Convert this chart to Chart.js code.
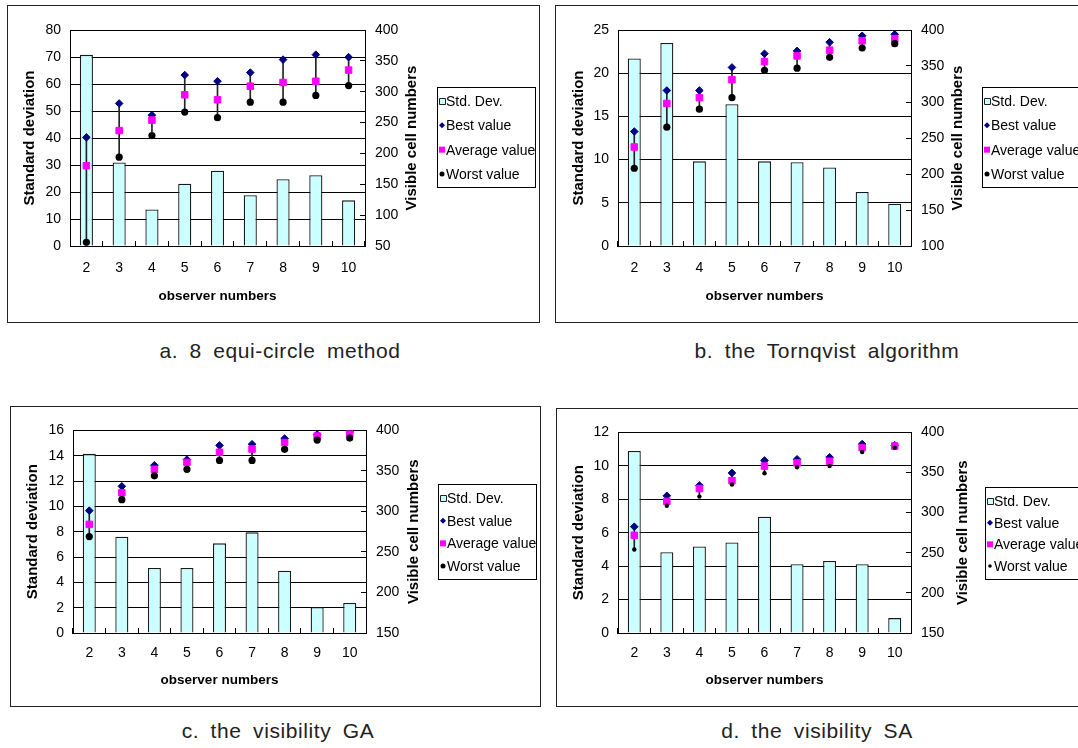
<!DOCTYPE html>
<html>
<head>
<meta charset="utf-8">
<script src="https://cdn.jsdelivr.net/npm/chart.js@4.4.0/dist/chart.umd.min.js"></script>
<style>
  body { margin: 0; width: 1078px; height: 748px; overflow: hidden; background: #fff; position: relative; font-family: 'Liberation Sans', Arial, sans-serif; }
  .panel { position: absolute; border: 1px solid #222; box-sizing: border-box; overflow: hidden; }
  .panel canvas { position: absolute; left: 0; top: 0; }
  .caption { position: absolute; font-size: 21px; letter-spacing: 0.6px; word-spacing: 5px; color: #222; white-space: nowrap; transform: translateX(-50%); }
</style>
</head>
<body>
<div class="panel" style="left:7px;top:5px;width:533px;height:318px"><canvas id="chartA"></canvas></div>
<div class="panel" style="left:555px;top:5px;width:540px;height:318px"><canvas id="chartB"></canvas></div>
<div class="panel" style="left:10px;top:406px;width:531px;height:301px"><canvas id="chartC"></canvas></div>
<div class="panel" style="left:556px;top:408px;width:540px;height:299px"><canvas id="chartD"></canvas></div>

<div class="caption" style="left:280px;top:339px">a. 8 equi-circle method</div>
<div class="caption" style="left:827px;top:339px">b. the Tornqvist algorithm</div>
<div class="caption" style="left:278px;top:719px">c. the visibility GA</div>
<div class="caption" style="left:817px;top:719px">d. the visibility SA</div>

<script>
const observers = ['2', '3', '4', '5', '6', '7', '8', '9', '10'];

// a. 8 equi-circle method
const stdA = [70.8, 30.9, 13.5, 23.1, 27.9, 18.8, 24.7, 26.2, 16.9];
const bestA = [226, 281, 262, 327, 317, 331, 352, 360, 356];
const avgA = [180, 237, 254, 295, 287, 309, 315, 317, 335];
const worstA = [56, 194, 229, 267, 258, 283, 283, 294, 310];

// b. the Tornqvist algorithm
const stdB = [21.7, 23.5, 9.8, 16.4, 9.8, 9.7, 9.1, 6.25, 4.9];
const bestB = [259, 316, 316, 348, 367, 371, 383, 392, 394];
const avgB = [237.5, 298, 306, 331, 356, 364, 372, 385, 388];
const worstB = [208, 265, 290, 306, 344, 347, 362, 375, 381];

// c. the visibility GA
const stdC = [14.15, 7.6, 5.13, 5.13, 7.08, 7.95, 4.92, 2.03, 2.37];
const bestC = [301, 331, 357, 364, 381.5, 383, 390, 395, 398];
const avgC = [284, 323, 352, 360.5, 373, 377, 385, 393, 396];
const worstC = [269, 314.5, 344, 352, 363, 363, 376.6, 388, 390.5];

// d. the visibility SA
const stdD = [10.89, 4.83, 5.17, 5.42, 6.95, 4.11, 4.31, 4.11, 0.89];
const bestD = [282.5, 321, 334, 349.5, 365, 366.5, 369, 385.5, 384];
const avgD = [271.7, 314, 330, 340, 358, 362, 364, 381, 383];
const worstD = [254, 308.5, 320, 335, 349, 356.5, 358, 375.6, 381];

const FONT = "'Liberation Sans', Arial, sans-serif";
Chart.defaults.font.family = FONT;
Chart.defaults.color = '#000';

// draws the boxed legend and the right axis title (read bottom-to-top)
const panelDecor = {
  id: 'panelDecor',
  afterDraw(chart, args, opts) {
    const ctx = chart.ctx;
    const area = chart.chartArea;

    ctx.save();
    ctx.translate(opts.rightTitleX, (area.top + area.bottom) / 2);
    ctx.rotate(-Math.PI / 2);
    ctx.font = 'bold 15px ' + FONT;
    ctx.textAlign = 'center';
    ctx.textBaseline = 'middle';
    ctx.fillStyle = '#000';
    ctx.fillText('Visible cell numbers', 0, 0);
    ctx.restore();

    const L = opts.legend;
    ctx.save();
    ctx.fillStyle = '#fff';
    ctx.fillRect(L.x, L.y, L.w, L.h);
    ctx.strokeStyle = '#000';
    ctx.lineWidth = 1;
    ctx.strokeRect(L.x + 0.5, L.y + 0.5, L.w - 1, L.h - 1);
    ctx.font = '14px ' + FONT;
    ctx.textBaseline = 'middle';
    ctx.textAlign = 'left';
    const items = chart.data.datasets.filter(ds => ds.legendMark);
    const step = (L.h - 28) / (items.length - 1);
    items.forEach((ds, i) => {
      const cy = L.y + 14 + i * step;
      const mx = L.x + 5;
      const m = ds.legendMark;
      ctx.fillStyle = m.fill;
      ctx.strokeStyle = m.stroke || m.fill;
      ctx.beginPath();
      if (m.shape === 'box') {
        ctx.rect(mx - 3 + 0.5, cy - 3 + 0.5, 6, 6);
        ctx.fill();
        ctx.stroke();
      } else if (m.shape === 'diamond') {
        ctx.moveTo(mx, cy - m.size);
        ctx.lineTo(mx + m.size, cy);
        ctx.lineTo(mx, cy + m.size);
        ctx.lineTo(mx - m.size, cy);
        ctx.closePath();
        ctx.fill();
      } else if (m.shape === 'square') {
        ctx.rect(mx - m.size, cy - m.size, m.size * 2, m.size * 2);
        ctx.fill();
      } else {
        ctx.arc(mx, cy, m.size, 0, Math.PI * 2);
        ctx.fill();
      }
      ctx.fillStyle = '#000';
      ctx.fillText(ds.label, L.x + 9, cy + 1);
    });
    ctx.restore();
  }
};

function buildChart(id, vals, cfg) {
  const cv = document.getElementById(id);
  cv.width = cfg.cw;
  cv.height = cfg.ch;
  cv.style.width = cfg.cw + 'px';
  cv.style.height = cfg.ch + 'px';
  const RW = 40;

  return new Chart(cv, {
    type: 'bar',
    data: {
      labels: observers,
      datasets: [
        {
          label: 'Std. Dev.',
          data: vals.std,
          yAxisID: 'y',
          grouped: false,
          barPercentage: 0.4,
          categoryPercentage: 1,
          backgroundColor: '#CCFFFF',
          borderColor: '#1a1a1a',
          borderWidth: 1.3,
          order: 5,
          legendMark: { shape: 'box', fill: '#CCFFFF', stroke: '#222' },
        },
        {
          // high-low line from worst to best
          data: vals.worst.map((w, i) => [w, vals.best[i]]),
          yAxisID: 'y1',
          grouped: false,
          barThickness: 1,
          backgroundColor: '#222',
          borderWidth: 0,
          order: 4,
        },
        {
          type: 'line',
          label: 'Best value',
          data: vals.best,
          yAxisID: 'y1',
          showLine: false,
          pointStyle: 'rectRot',
          pointRadius: 3.8,
          pointBackgroundColor: '#000080',
          pointBorderColor: '#000080',
          pointBorderWidth: 1,
          order: 3,
          legendMark: { shape: 'diamond', fill: '#000080', size: 3 },
        },
        {
          type: 'line',
          label: 'Average value',
          data: vals.avg,
          yAxisID: 'y1',
          showLine: false,
          pointStyle: 'rect',
          pointRadius: 4.6,
          pointBackgroundColor: '#FF00FF',
          pointBorderColor: '#FF00FF',
          pointBorderWidth: 1,
          order: 2,
          legendMark: { shape: 'square', fill: '#FF00FF', size: 3 },
        },
        {
          type: 'line',
          label: 'Worst value',
          data: vals.worst,
          yAxisID: 'y1',
          showLine: false,
          pointStyle: 'circle',
          pointRadius: cfg.worstR,
          pointBackgroundColor: '#000',
          pointBorderColor: '#000',
          pointBorderWidth: 0,
          order: 1,
          legendMark: { shape: 'circle', fill: '#000', size: cfg.worstLegendR },
        },
      ],
    },
    options: {
      responsive: false,
      animation: false,
      events: [],
      layout: {
        padding: {
          left: 0,
          top: cfg.plot.t,
          right: cfg.cw - cfg.plot.r - RW,
          bottom: cfg.ch - cfg.plot.b - cfg.xh,
        },
      },
      plugins: {
        legend: { display: false },
        tooltip: { enabled: false },
        panelDecor: { rightTitleX: cfg.rightTitleX, legend: cfg.legend },
      },
      scales: {
        x: {
          offset: true,
          grid: { drawOnChartArea: false, drawTicks: true, tickLength: -5, color: '#000', offset: true },
          border: { color: '#000' },
          ticks: { color: '#000', font: { size: 14 }, padding: cfg.xTickPad, maxRotation: 0, autoSkip: false },
          title: {
            display: true,
            text: 'observer numbers',
            color: '#000',
            font: { size: 13.5, weight: 'bold' },
            padding: { top: 0, bottom: cfg.xTitlePad },
          },
          afterFit: s => { s.height = cfg.xh; },
        },
        y: {
          position: 'left',
          min: cfg.left[0],
          max: cfg.left[1],
          ticks: { stepSize: cfg.left[2], color: '#000', font: { size: 14 }, padding: 9 },
          grid: { color: '#000', drawTicks: false },
          border: { color: '#000' },
          title: {
            display: true,
            text: 'Standard deviation',
            color: '#000',
            font: { size: 15, weight: 'bold' },
            padding: { top: cfg.leftTitleX - 9, bottom: 0 },
          },
          afterFit: s => { s.width = cfg.plot.l; },
        },
        y1: {
          position: 'right',
          min: cfg.right[0],
          max: cfg.right[1],
          ticks: { stepSize: cfg.right[2], color: '#000', font: { size: 14 }, padding: 15 },
          grid: { drawOnChartArea: false, tickLength: -5, color: '#000' },
          border: { color: '#000' },
          afterFit: s => { s.width = RW; },
        },
      },
    },
    plugins: [panelDecor],
  });
}

buildChart('chartA', { std: stdA, best: bestA, avg: avgA, worst: worstA }, {
  cw: 531, ch: 316,
  plot: { l: 62, t: 24, r: 357, b: 240 },
  xh: 65, xTickPad: 19, xTitlePad: 7,
  leftTitleX: 22, rightTitleX: 404,
  left: [0, 80, 10], right: [50, 400, 50],
  legend: { x: 429, y: 81, w: 99, h: 101 },
  worstR: 3.6, worstLegendR: 2.5,
});

buildChart('chartB', { std: stdB, best: bestB, avg: avgB, worst: worstB }, {
  cw: 538, ch: 316,
  plot: { l: 62, t: 24, r: 355, b: 240 },
  xh: 65, xTickPad: 19, xTitlePad: 7,
  leftTitleX: 23, rightTitleX: 402,
  left: [0, 25, 5], right: [100, 400, 50],
  legend: { x: 426, y: 81, w: 120, h: 101 },
  worstR: 3.6, worstLegendR: 2.5,
});

buildChart('chartC', { std: stdC, best: bestC, avg: avgC, worst: worstC }, {
  cw: 529, ch: 299,
  plot: { l: 62, t: 23, r: 355, b: 226 },
  xh: 60, xTickPad: 17, xTitlePad: 5,
  leftTitleX: 22, rightTitleX: 403,
  left: [0, 16, 2], right: [150, 400, 50],
  legend: { x: 427, y: 77, w: 99, h: 96 },
  worstR: 3.6, worstLegendR: 2.5,
});

buildChart('chartD', { std: stdD, best: bestD, avg: avgD, worst: worstD }, {
  cw: 538, ch: 297,
  plot: { l: 61, t: 23, r: 354, b: 224 },
  xh: 60, xTickPad: 17, xTitlePad: 5,
  leftTitleX: 22, rightTitleX: 406,
  left: [0, 12, 2], right: [150, 400, 50],
  legend: { x: 428, y: 78, w: 120, h: 93 },
  worstR: 2.2, worstLegendR: 1.8,
});
</script>
</body>
</html>
